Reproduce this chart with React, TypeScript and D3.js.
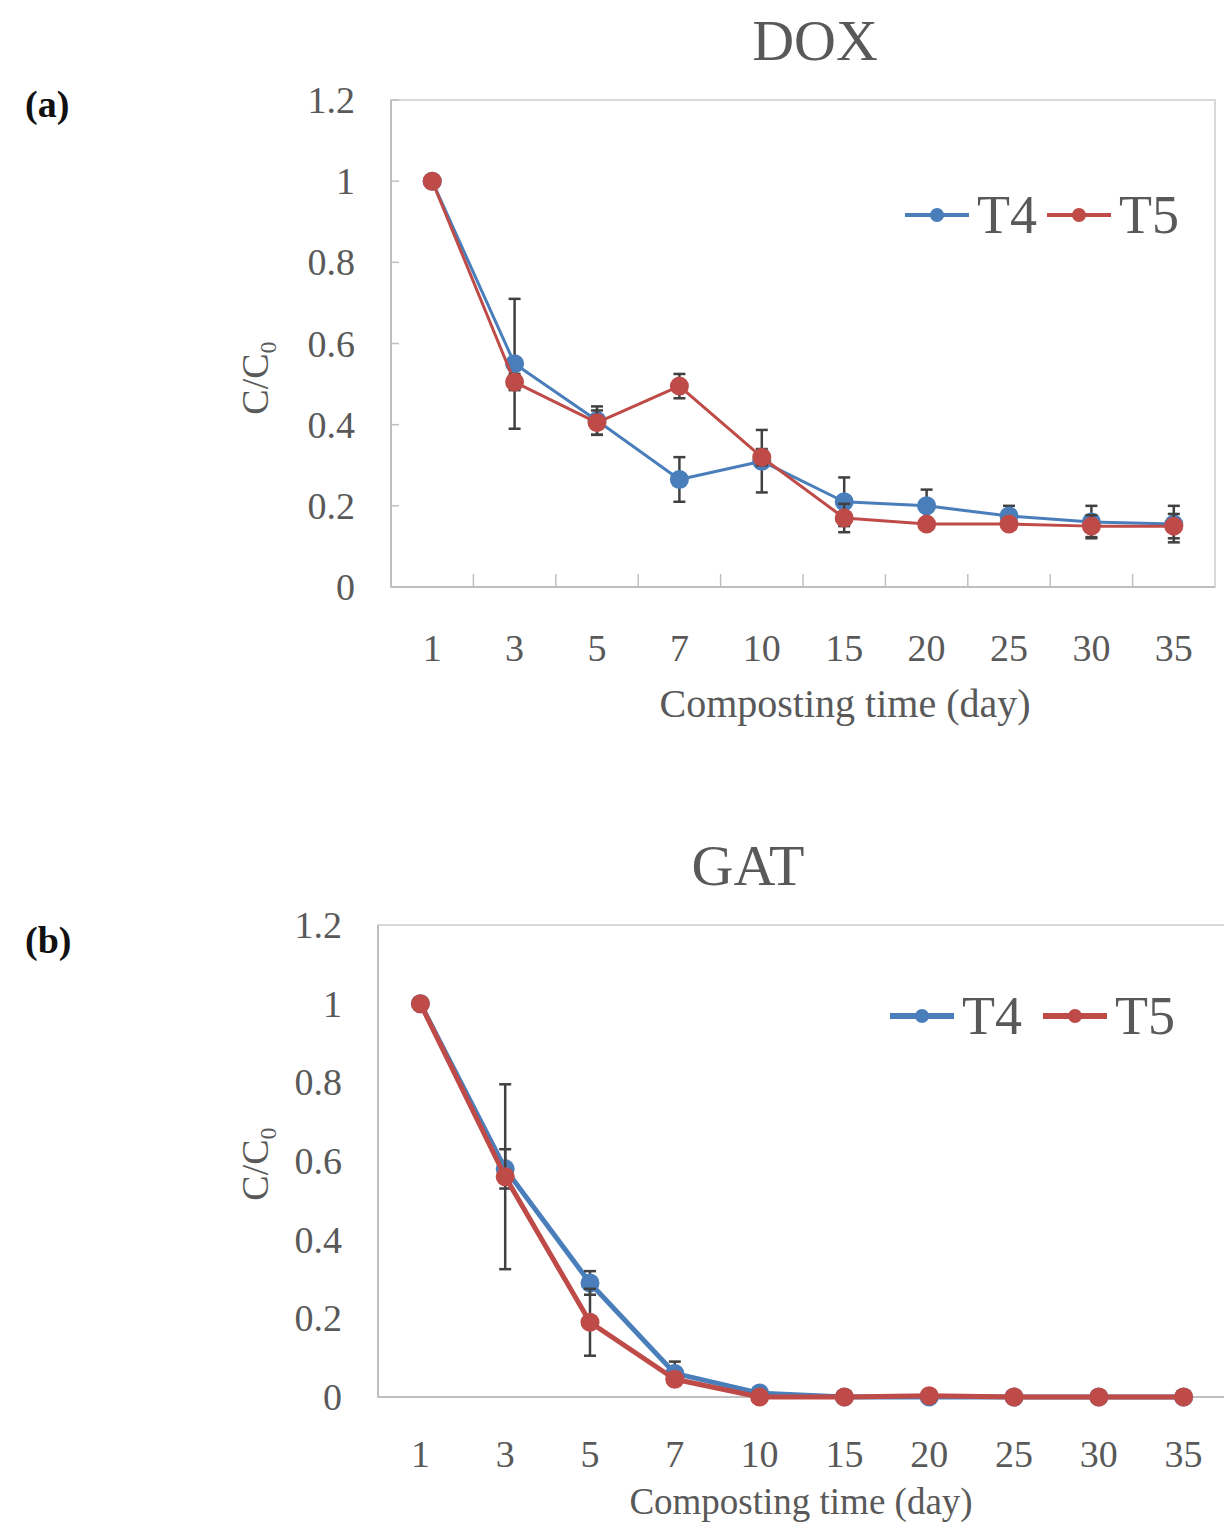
import React from "react";
import * as d3 from "d3";

const days = ["1", "3", "5", "7", "10", "15", "20", "25", "30", "35"];
const yTicks = [0, 0.2, 0.4, 0.6, 0.8, 1, 1.2];
const seriesNames = ["T4", "T5"];

// DOX, C/C0
const doxT4 = [1, 0.55, 0.41, 0.265, 0.31, 0.21, 0.2, 0.175, 0.16, 0.155];
const doxT5 = [1, 0.505, 0.405, 0.495, 0.32, 0.17, 0.155, 0.155, 0.15, 0.15];
const doxT4Err = [0, 0.16, 0.035, 0.055, 0.077, 0.06, 0.04, 0.025, 0.04, 0.045];
const doxT5Err = [0, 0.02, 0.03, 0.03, 0.02, 0.035, 0.01, 0.01, 0.027, 0.03];

// GAT, C/C0
const gatT4 = [1, 0.58, 0.29, 0.06, 0.01, 0, 0, 0, 0, 0];
const gatT5 = [1, 0.56, 0.19, 0.045, 0, 0, 0.003, 0, 0, 0];
const gatT4Err = [0, 0.05, 0.03, 0.03, 0, 0, 0, 0, 0, 0];
const gatT5Err = [0, 0.235, 0.085, 0, 0, 0, 0, 0, 0, 0];

const colors = ["#4a7ebb", "#be4b48"];
const textColor = "#595959";
const serif = "'Liberation Serif', 'DejaVu Serif', serif";

type PanelProps = {
  letter: string;
  title: string;
  titleX: number;
  left: number;
  right: number;
  top: number;
  bottom: number;
  values: number[][];
  errors: number[][];
  lineWidth: number;
  innerTicks: boolean;
  legendX: number;
  legendY: number;
  legendGap: number;
  labelY: number;
  xTitleX: number;
  xTitleY: number;
  xTitleSize: number;
  tickY: number;
  yTitleY: number;
};

function Panel(p: PanelProps) {
  const x = d3.scaleBand<string>().domain(days).range([p.left, p.right]).padding(0);
  const y = d3.scaleLinear().domain([0, 1.2]).range([p.bottom, p.top]);
  const cx = (d: string) => (x(d) as number) + x.bandwidth() / 2;
  const line = d3
    .line<number>()
    .x((_, i) => cx(days[i]))
    .y((v) => y(v));

  return (
    <g>
      <text x={25} y={p.labelY} fontFamily={serif} fontWeight="bold" fontSize={38} fill="#111">
        ({p.letter})
      </text>
      <text x={p.titleX} y={p.top - 40} textAnchor="middle" fontFamily={serif} fontSize={58} fill={textColor}>
        {p.title}
      </text>

      {/* plot frame */}
      <rect x={p.left} y={p.top} width={p.right - p.left} height={p.bottom - p.top} fill="none" stroke="#d9d9d9" strokeWidth={2} />
      <line x1={p.left} x2={p.left} y1={p.top} y2={p.bottom} stroke="#bfbfbf" strokeWidth={2} />
      <line x1={p.left} x2={p.right} y1={p.bottom} y2={p.bottom} stroke="#bfbfbf" strokeWidth={2} />

      {yTicks.map((t) => (
        <g key={t}>
          {p.innerTicks && (
            <line x1={p.left} x2={p.left + 8} y1={y(t)} y2={y(t)} stroke="#bfbfbf" strokeWidth={1.5} />
          )}
          <text x={p.left - 36} y={y(t) + 13} textAnchor="end" fontFamily={serif} fontSize={38} fill={textColor}>
            {t === 0 || t === 1 ? String(t) : t.toFixed(1)}
          </text>
        </g>
      ))}
      {p.innerTicks &&
        days.slice(1).map((d) => (
          <line key={d} x1={x(d)} x2={x(d)} y1={p.bottom} y2={p.bottom - 13} stroke="#bfbfbf" strokeWidth={1.5} />
        ))}
      {days.map((d) => (
        <text key={d} x={cx(d)} y={p.tickY} textAnchor="middle" fontFamily={serif} fontSize={38} fill={textColor}>
          {d}
        </text>
      ))}

      <text x={p.xTitleX} y={p.xTitleY} textAnchor="middle" fontFamily={serif} fontSize={p.xTitleSize} fill={textColor}>
        Composting time (day)
      </text>
      <text
        transform={`translate(${268},${p.yTitleY}) rotate(-90)`}
        textAnchor="middle"
        fontFamily={serif}
        fontSize={38}
        fill={textColor}
      >
        C/C<tspan fontSize={24} dy={8}>0</tspan>
      </text>

      {p.values.map((vals, s) => (
        <g key={s}>
          <path d={line(vals) || ""} fill="none" stroke={colors[s]} strokeWidth={p.lineWidth} strokeLinejoin="round" />
          {vals.map((v, i) =>
            p.errors[s][i] > 0 ? (
              <g key={i} stroke="#404040" strokeWidth={2.5}>
                <line x1={cx(days[i])} x2={cx(days[i])} y1={y(v + p.errors[s][i])} y2={y(v - p.errors[s][i])} />
                <line x1={cx(days[i]) - 6} x2={cx(days[i]) + 6} y1={y(v + p.errors[s][i])} y2={y(v + p.errors[s][i])} />
                <line x1={cx(days[i]) - 6} x2={cx(days[i]) + 6} y1={y(v - p.errors[s][i])} y2={y(v - p.errors[s][i])} />
              </g>
            ) : null
          )}
          {vals.map((v, i) => (
            <circle key={"m" + i} cx={cx(days[i])} cy={y(v)} r={9.5} fill={colors[s]} />
          ))}
        </g>
      ))}

      {seriesNames.map((name, s) => {
        const lx = p.legendX + s * p.legendGap;
        return (
          <g key={name}>
            <line x1={lx} x2={lx + 64} y1={p.legendY} y2={p.legendY} stroke={colors[s]} strokeWidth={p.lineWidth + 1} />
            <circle cx={lx + 32} cy={p.legendY} r={7} fill={colors[s]} />
            <text x={lx + 72} y={p.legendY + 18} fontFamily={serif} fontSize={54} fill={textColor}>
              {name}
            </text>
          </g>
        );
      })}
    </g>
  );
}

export default function App() {
  return (
    <svg
      width={1224}
      height={1533}
      style={{ position: "absolute", left: 0, top: 0, background: "#fff" }}
    >
      <rect width={1224} height={1533} fill="#fff" />
      <Panel
        letter="a"
        title="DOX"
        titleX={815}
        left={391}
        right={1215}
        top={100}
        bottom={587}
        values={[doxT4, doxT5]}
        errors={[doxT4Err, doxT5Err]}
        lineWidth={3}
        innerTicks={true}
        legendX={905}
        legendY={215}
        legendGap={142}
        labelY={117}
        xTitleX={845}
        xTitleY={717}
        xTitleSize={40}
        tickY={661}
        yTitleY={378}
      />
      <Panel
        letter="b"
        title="GAT"
        titleX={748}
        left={378}
        right={1226}
        top={925}
        bottom={1397}
        values={[gatT4, gatT5]}
        errors={[gatT4Err, gatT5Err]}
        lineWidth={5}
        innerTicks={false}
        legendX={890}
        legendY={1016}
        legendGap={153}
        labelY={953}
        xTitleX={801}
        xTitleY={1514}
        xTitleSize={37}
        tickY={1467}
        yTitleY={1164}
      />
    </svg>
  );
}
